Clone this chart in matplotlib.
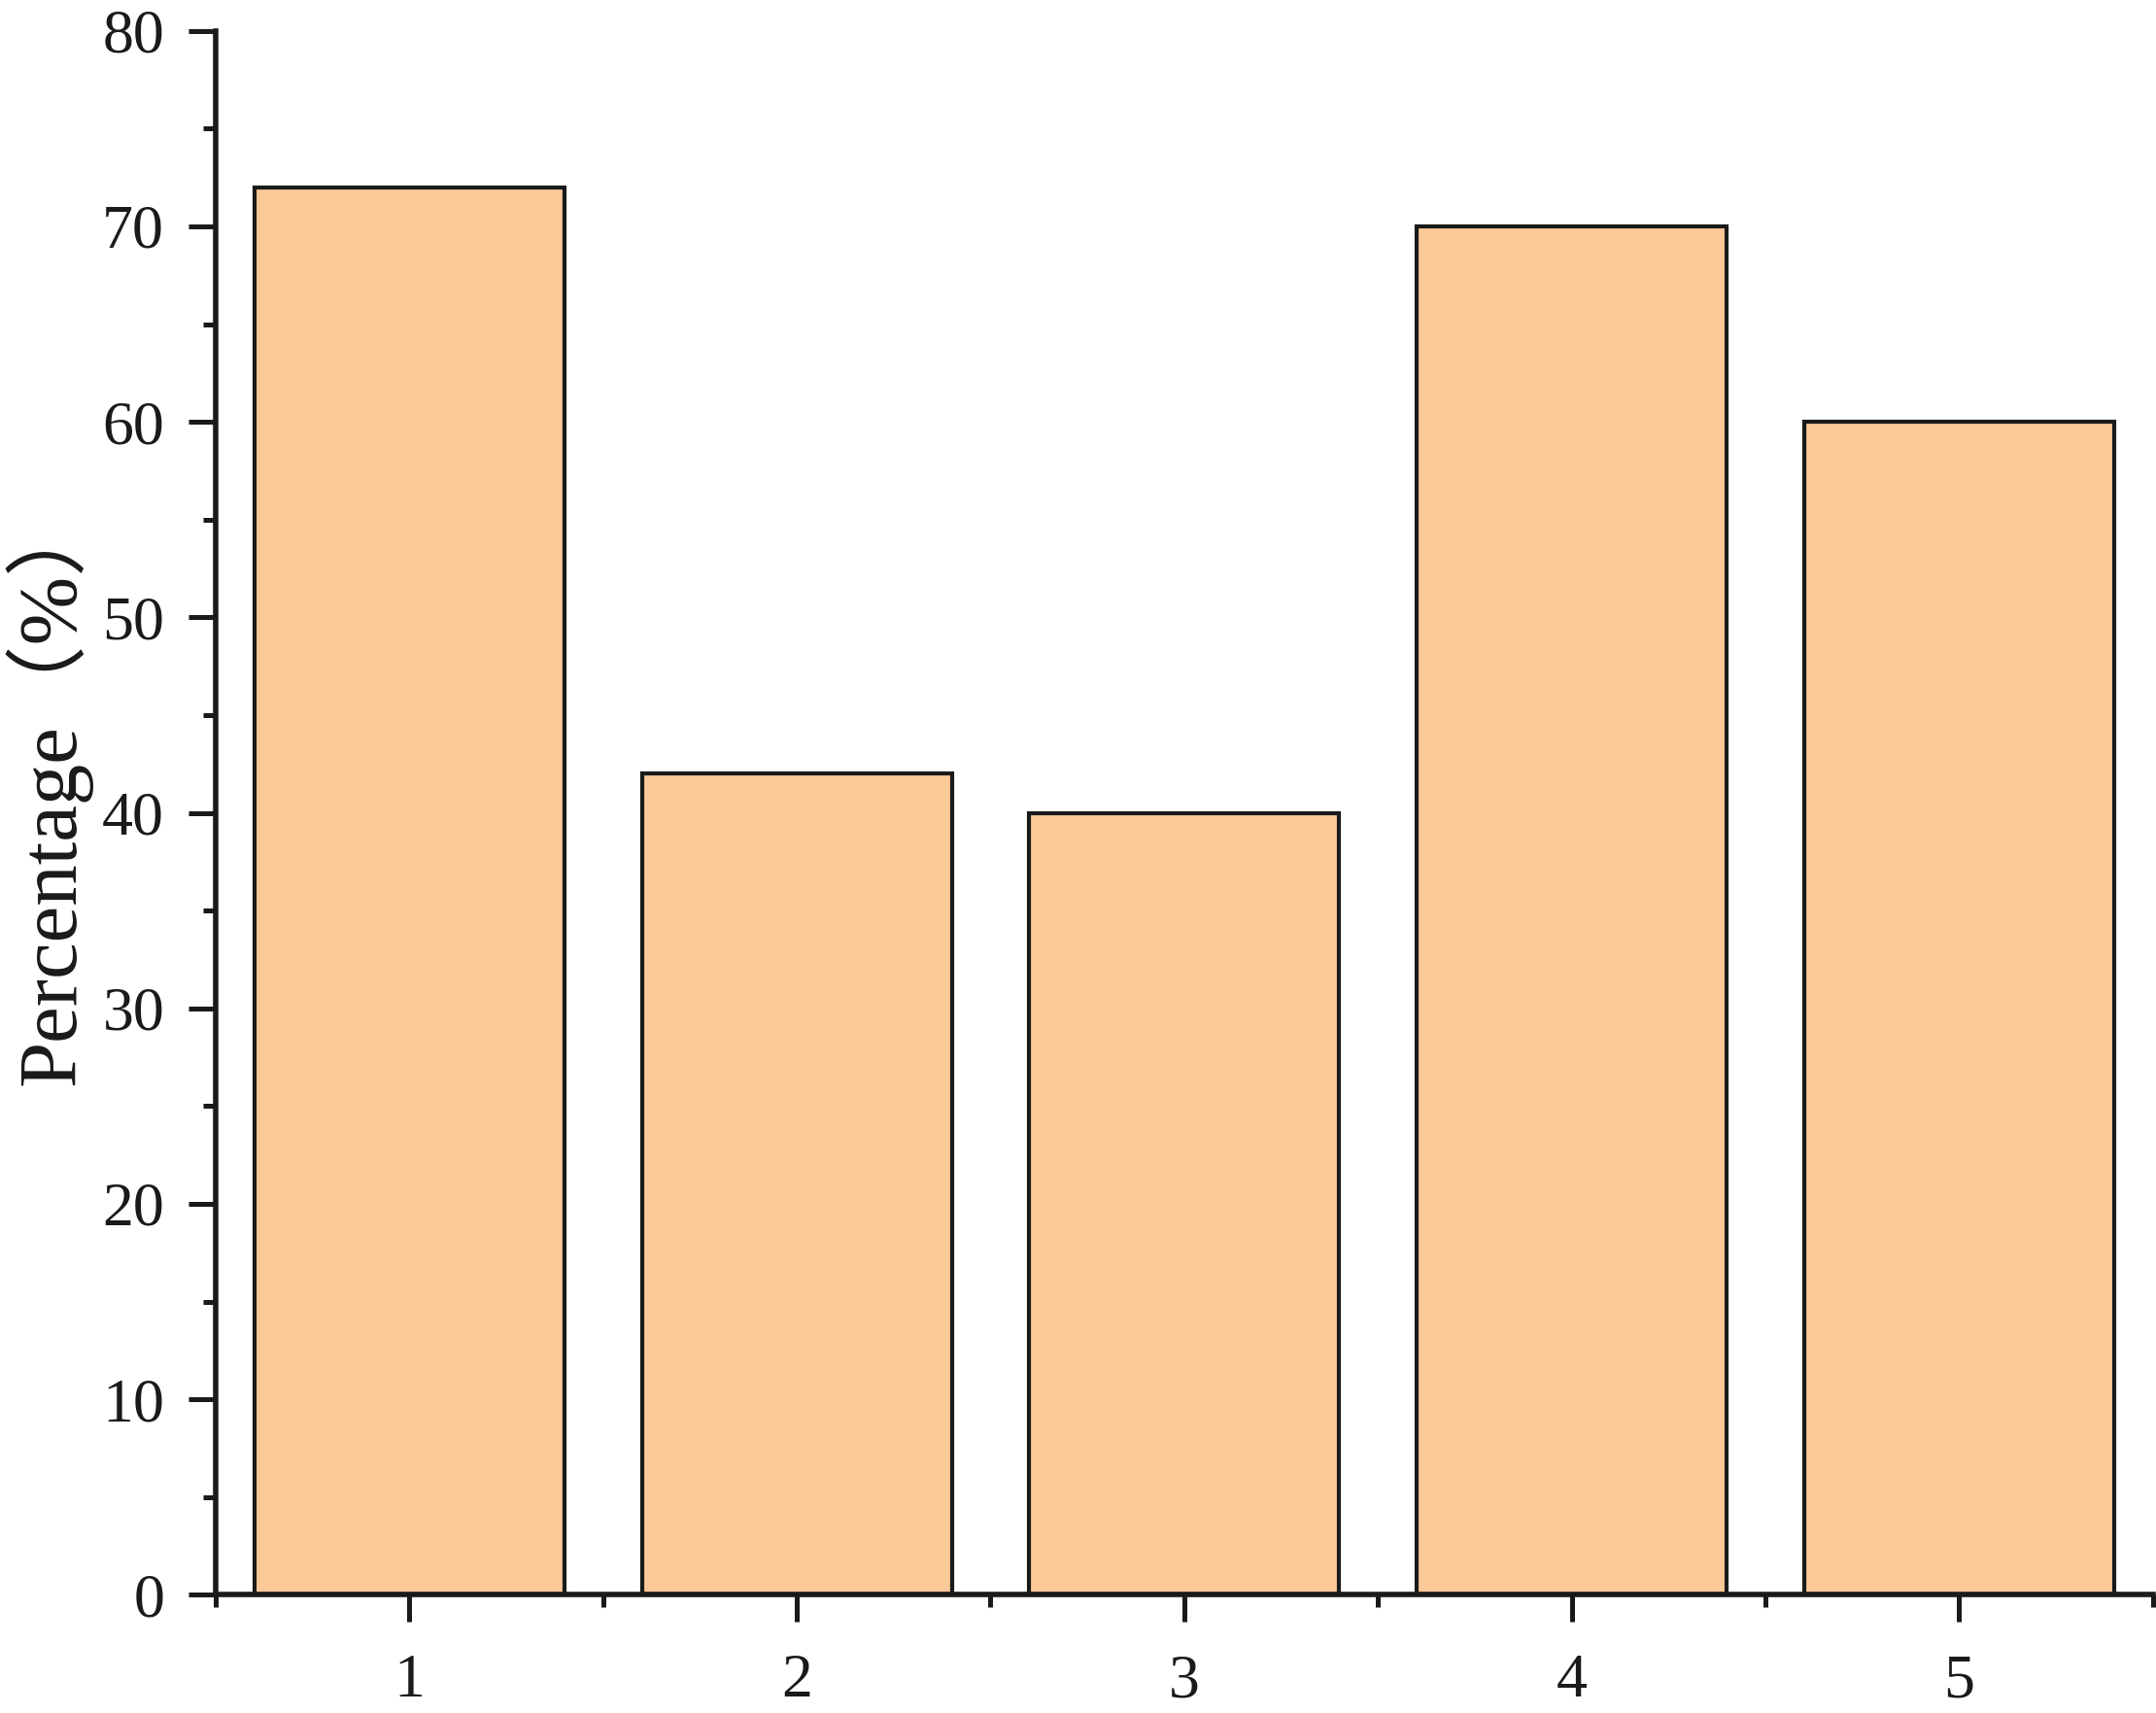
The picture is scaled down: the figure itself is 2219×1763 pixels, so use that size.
import numpy as np
from matplotlib import pyplot as plt
from matplotlib.ticker import MultipleLocator

categories = [1, 2, 3, 4, 5]
percentages = [72, 42, 40, 70, 60]
y_ticks = [0, 10, 20, 30, 40, 50, 60, 70, 80]

plt.rcParams['font.family'] = ['Liberation Serif', 'Noto Sans CJK SC']

fig = plt.figure(figsize=[22.19, 17.63], dpi=100)
ax = fig.add_axes([0.100, 0.069, 0.8986, 0.913])

ax.bar(categories, percentages, width=0.8, color='#fbc898',
       edgecolor='#1a1a1a', linewidth=3.0, zorder=2)

ax.set_xlim(0.5, 5.5)
ax.set_ylim(0, 80)
ax.set_xticks(categories)
ax.set_yticks(y_ticks)
ax.xaxis.set_minor_locator(MultipleLocator(1, offset=0.5))
ax.yaxis.set_minor_locator(MultipleLocator(5))

for side in ['top', 'right']:
    ax.spines[side].set_visible(False)
for side in ['left', 'bottom']:
    ax.spines[side].set_linewidth(4.0)
    ax.spines[side].set_color('#1a1a1a')

ax.tick_params(which='major', direction='out', length=20, width=3.6,
               color='#1a1a1a', labelsize=46, labelcolor='#1a1a1a')
ax.tick_params(which='minor', direction='out', length=9.5, width=3.6,
               color='#1a1a1a')
ax.tick_params(axis='y', which='major', pad=18)
ax.tick_params(axis='x', which='major', pad=24)

ax.set_ylabel('Percentage（%）', fontsize=61, color='#1a1a1a', labelpad=8)
ax.yaxis.label.set_y(0.516)

plt.savefig('out.png', dpi=100)
plt.close()
